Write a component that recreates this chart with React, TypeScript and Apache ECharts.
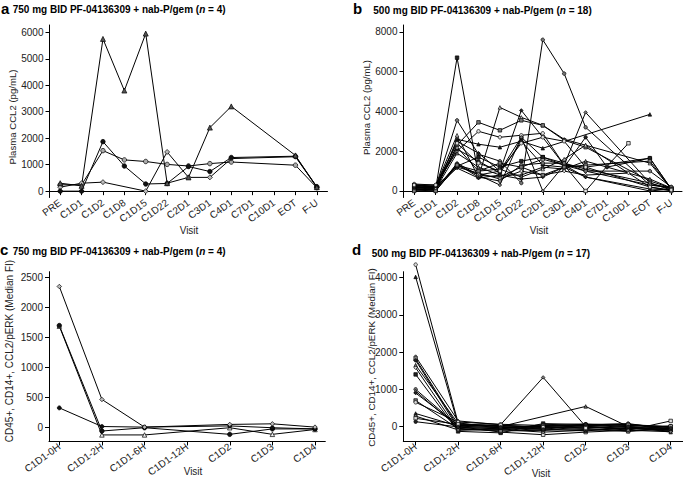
import React, { useEffect, useRef } from "react";
import * as echarts from "echarts";

// ---------- categories / tick labels ----------
const visitsAB = ["PRE", "C1D1", "C1D2", "C1D8", "C1D15", "C1D22", "C2D1", "C3D1", "C4D1", "C7D1", "C10D1", "EOT", "F-U"];
const visitsCD = ["C1D1-0H", "C1D1-2H", "C1D1-6H", "C1D1-12H", "C1D2", "C1D3", "C1D4"];
const ticksA = [0, 1000, 2000, 3000, 4000, 5000, 6000];
const ticksB = [0, 2000, 4000, 6000, 8000];
const ticksC = [0, 500, 1000, 1500, 2000, 2500];
const ticksD = [0, 1000, 2000, 3000, 4000];

// ---------- panel a (750 mg, n = 4) Plasma CCL2 ----------
const aTriangle = [300, 200, 5750, 3800, 5950, 300, 520, 2400, 3200, null, null, 1350, 150];
const aFilled = [0, 0, 1870, 950, 270, 290, 930, 740, 1270, null, null, 1320, 170];
const aOpen = [240, 240, 1530, 1180, 1120, 1010, 950, 1040, 1100, null, null, 980, 130];
const aDiamond = [150, 300, 340, null, 0, 1480, 520, 520, 1230, null, null, 1300, 150];

// ---------- panel b (500 mg, n = 18) Plasma CCL2 ----------
const b1 = [150, 100, 6700, 800, 1000, 2700, 1700, 1400, 1100, null, null, 400, 100];
const b2 = [250, 200, 3550, 1850, 1500, 400, 7600, 5900, 3200, null, null, 300, 150];
const b3 = [300, 250, 2800, 700, 4200, 3700, 3300, 2600, 2300, null, null, 1400, 100];
const b4 = [200, 150, 2500, 1900, 1000, 4050, 2700, 1300, 700, null, null, 100, 50];
const b5 = [100, 100, 2300, 3450, 3050, 3550, 3300, 2550, 2200, null, null, 500, 150];
const b6 = [350, 300, 2000, 3000, 2700, 2800, 2900, 1300, 1000, null, null, 300, 200];
const b7 = [100, 50, 2600, 2350, 2200, 2500, 2150, null, null, null, null, 3850, null];
const b8 = [50, 0, 1400, 800, 300, 2700, 0, 1300, 3950, null, null, 400, 50];
const b9 = [200, 150, 1300, 800, 700, 1200, 1600, 1300, 0, 1250, 2400, null, null];
const b10 = [150, 200, 2100, 1500, 900, 2500, 1300, 1200, 2700, 1200, null, 1650, 100];
const b11 = [250, 100, 1900, 1200, 800, 800, 1200, 1100, 1500, null, null, 600, 150];
const b12 = [100, 50, 1200, 900, 600, 1000, 800, 1000, 800, null, 900, null, null];
const b13 = [300, 200, 1250, 1700, 1200, 1500, 1700, 1300, 1200, null, null, 1650, 100];
const b14 = [50, 100, 1350, 700, 500, 1300, 1400, 1400, 1000, null, null, 1000, 200];
const b15 = [200, 150, 2200, 1000, 1100, 700, 1100, 1600, 2300, null, null, 200, 0];
const b16 = [150, 250, 1150, 650, 800, 600, 700, 1200, 700, null, null, 0, 100];
const b17 = [0, 0, 1300, 1000, 1400, 1200, 800, 1200, 1300, null, null, 1500, 100];
const b18 = [300, 300, 2400, 1400, 1000, 2400, 2700, 2500, 1200, null, null, 200, 50];

// ---------- panel c (750 mg, n = 4) CD45+, CD14+, CCL2/pERK ----------
const cDiamond = [2350, 470, 10, null, 55, 65, 10];
const cFilled = [1700, -55, 0, null, -110, -20, -20];
const cTriangle = [1690, -120, -120, null, 0, -110, -30];
const cSmall = [330, 20, 10, null, 30, 0, -20];

// ---------- panel d (500 mg, n = 17) ----------
const d1 = [4350, 100, -50, -100, 0, -50, -100];
const d2 = [4020, 50, 0, -50, 30, 0, -150];
const d3 = [1880, 150, 50, 1320, 0, -50, -50];
const d4 = [1820, 0, -150, -220, -150, -100, 150];
const d5 = [1780, -50, -100, 0, 50, 80, -80];
const d6 = [1650, 80, 0, null, 540, 0, -100];
const d7 = [1580, -100, -80, -150, -100, -50, -120];
const d8 = [1400, -130, -170, 80, 50, 50, 0];
const d9 = [1000, 20, 30, -30, -50, -120, -50];
const d10 = [950, -20, -60, 50, 70, 30, -20];
const d11 = [900, 30, 10, 0, -20, -80, 20];
const d12 = [700, -60, -120, -100, -80, -130, -60];
const d13 = [650, 120, 60, 30, 20, 60, -30];
const d14 = [350, 10, -30, -60, -120, -20, -90];
const d15 = [280, -90, -40, 20, 10, -100, -140];
const d16 = [220, 60, 40, -20, -40, 30, 0];
const d17 = [130, -10, -20, -80, 60, 0, -40];

const FONT = "'Liberation Sans', Arial, Helvetica, sans-serif";
const SYMS = ["rect", "circle", "triangle", "diamond"];
const FILLS = ["#222", "#777", "#ddd"];

function catX(gi: number) {
  return {
    type: "category",
    gridIndex: gi,
    data: visitsAB,
    boundaryGap: true,
    axisLine: { show: true, lineStyle: { color: "#000", width: 1 } },
    axisTick: { show: true, alignWithLabel: true, length: 4, lineStyle: { color: "#000" } },
    axisLabel: { interval: 0, rotate: 36, fontSize: 10, color: "#222", margin: 4, fontFamily: FONT },
    splitLine: { show: false },
  };
}

function valX(gi: number, pad: number) {
  const idx = visitsCD.map((_, i) => i);
  return {
    type: "value",
    gridIndex: gi,
    min: -pad,
    max: visitsCD.length - 1 + pad,
    axisLine: { show: true, onZero: false, lineStyle: { color: "#000", width: 1 } },
    axisTick: { show: true, length: 4, customValues: idx, lineStyle: { color: "#000" } },
    axisLabel: {
      customValues: idx,
      formatter: (v: number) => visitsCD[Math.round(v)] ?? "",
      rotate: 36,
      fontSize: 10,
      color: "#222",
      margin: 4,
      fontFamily: FONT,
    },
    splitLine: { show: false },
  };
}

function valY(gi: number, min: number, max: number, ticks: number[]) {
  return {
    type: "value",
    gridIndex: gi,
    min,
    max,
    axisLine: { show: true, onZero: false, lineStyle: { color: "#000", width: 1 } },
    axisTick: { show: true, length: 4, customValues: ticks, lineStyle: { color: "#000" } },
    axisLabel: {
      customValues: ticks,
      formatter: (v: number) => String(Math.round(v)),
      fontSize: 10,
      color: "#222",
      margin: 6,
      fontFamily: FONT,
    },
    splitLine: { show: false },
  };
}

function lineSeries(gi: number, data: any[], symbol: string, fill: string, size: number) {
  return {
    type: "line",
    xAxisIndex: gi,
    yAxisIndex: gi,
    data,
    connectNulls: true,
    symbol,
    symbolSize: size,
    showAllSymbol: true,
    clip: false,
    silent: true,
    lineStyle: { color: "#000", width: 1 },
    itemStyle: { color: fill, borderColor: "#000", borderWidth: 0.7 },
    emphasis: { disabled: true },
  };
}

const pairs = (arr: (number | null)[]) =>
  arr.map((v, i) => [i, v]).filter((p) => p[1] !== null);

function title(x: number, y: number, letterX: number, letterY: number, letter: string, dose: string, n: string) {
  return [
    {
      type: "text",
      x: letterX,
      y: letterY,
      style: {
        text: letter,
        fontSize: 15,
        fontWeight: "bold",
        fontFamily: FONT,
        fill: "#000",
        align: "left",
        verticalAlign: "middle",
        textAlign: "left",
        textVerticalAlign: "middle",
      },
    },
    {
      type: "text",
      x,
      y,
      style: {
        text: `{b|${dose} mg BID PF-04136309 + nab-P/gem (}{i|n}{b| = ${n})}`,
        rich: {
          b: { fontSize: 10, fontWeight: "bold", fontFamily: FONT, fill: "#000" },
          i: { fontSize: 10, fontWeight: "bold", fontStyle: "italic", fontFamily: FONT, fill: "#000" },
        },
        align: "left",
        verticalAlign: "middle",
        textAlign: "left",
        textVerticalAlign: "middle",
      },
    },
  ];
}

function label(x: number, y: number, text: string, size: number, rotate: boolean) {
  return {
    type: "text",
    x,
    y,
    rotation: rotate ? Math.PI / 2 : 0,
    style: {
      text,
      fontSize: size,
      fontFamily: FONT,
      fill: "#222",
      align: "center",
      verticalAlign: "middle",
      textAlign: "center",
      textVerticalAlign: "middle",
    },
  };
}

export default function App() {
  const ref = useRef<HTMLDivElement>(null);
  useEffect(() => {
    if (!ref.current) return;
    const chart = echarts.init(ref.current, null, { renderer: "svg" });

    const series: any[] = [];
    series.push(lineSeries(0, aOpen, "circle", "#aaa", 4.5));
    series.push(lineSeries(0, aDiamond, "diamond", "#bbb", 5));
    series.push(lineSeries(0, aFilled, "circle", "#111", 4.5));
    series.push(lineSeries(0, aTriangle, "triangle", "#555", 5));

    const bAll = [b1, b2, b3, b4, b5, b6, b7, b8, b9, b10, b11, b12, b13, b14, b15, b16, b17, b18];
    bAll.forEach((arr, i) => series.push(lineSeries(1, arr, SYMS[i % 4], FILLS[i % 3], 3.5)));

    series.push(lineSeries(2, pairs(cTriangle), "triangle", "#eee", 4.5));
    series.push(lineSeries(2, pairs(cFilled), "circle", "#111", 4.5));
    series.push(lineSeries(2, pairs(cSmall), "circle", "#111", 4));
    series.push(lineSeries(2, pairs(cDiamond), "diamond", "#bbb", 4.5));

    const dAll = [d1, d2, d3, d4, d5, d6, d7, d8, d9, d10, d11, d12, d13, d14, d15, d16, d17];
    dAll.forEach((arr, i) => series.push(lineSeries(3, pairs(arr), SYMS[(i + 1) % 4], FILLS[(i + 2) % 3], 3.5)));

    chart.setOption({
      animation: false,
      backgroundColor: "#fff",
      grid: [
        { left: 49.5, top: 25, width: 278, height: 172.5 },
        { left: 403.5, top: 25, width: 278.5, height: 172.5 },
        { left: 49, top: 271.7, width: 276.3, height: 170.8 },
        { left: 403.3, top: 271.7, width: 279.7, height: 170.8 },
      ],
      xAxis: [catX(0), catX(1), valX(2, 0.242), valX(3, 0.29)],
      yAxis: [
        valY(0, -240, 6275, ticksA),
        valY(1, -327, 8342, ticksB),
        valY(2, -228, 2596, ticksC),
        valY(3, -400, 4160, ticksD),
      ],
      series,
      graphic: [
        ...title(12.7, 9, 1, 8.2, "a", "750", "4"),
        ...title(373.3, 10, 353, 8.8, "b", "500", "18"),
        ...title(12.7, 251.5, 0, 249.8, "c", "750", "4"),
        ...title(371.7, 253, 352, 249.8, "d", "500", "17"),
        label(12, 117, "Plasma CCL2 (pg/mL)", 9.6, true),
        label(366, 107.5, "Plasma CCL2 (pg/mL)", 9.6, true),
        label(9.5, 351, "CD45+, CD14+, CCL2/pERK (Median FI)", 10, true),
        label(371, 357.5, "CD45+, CD14+, CCL2/pERK (Median FI)", 9.8, true),
        label(189, 230, "Visit", 10, false),
        label(539, 230, "Visit", 10, false),
        label(193, 471, "Visit", 10, false),
        label(541, 473, "Visit", 10, false),
      ],
    });
    return () => chart.dispose();
  }, []);
  return (
    <div
      ref={ref}
      style={{ position: "absolute", left: 0, top: 0, width: 683, height: 479, background: "#fff" }}
    />
  );
}
